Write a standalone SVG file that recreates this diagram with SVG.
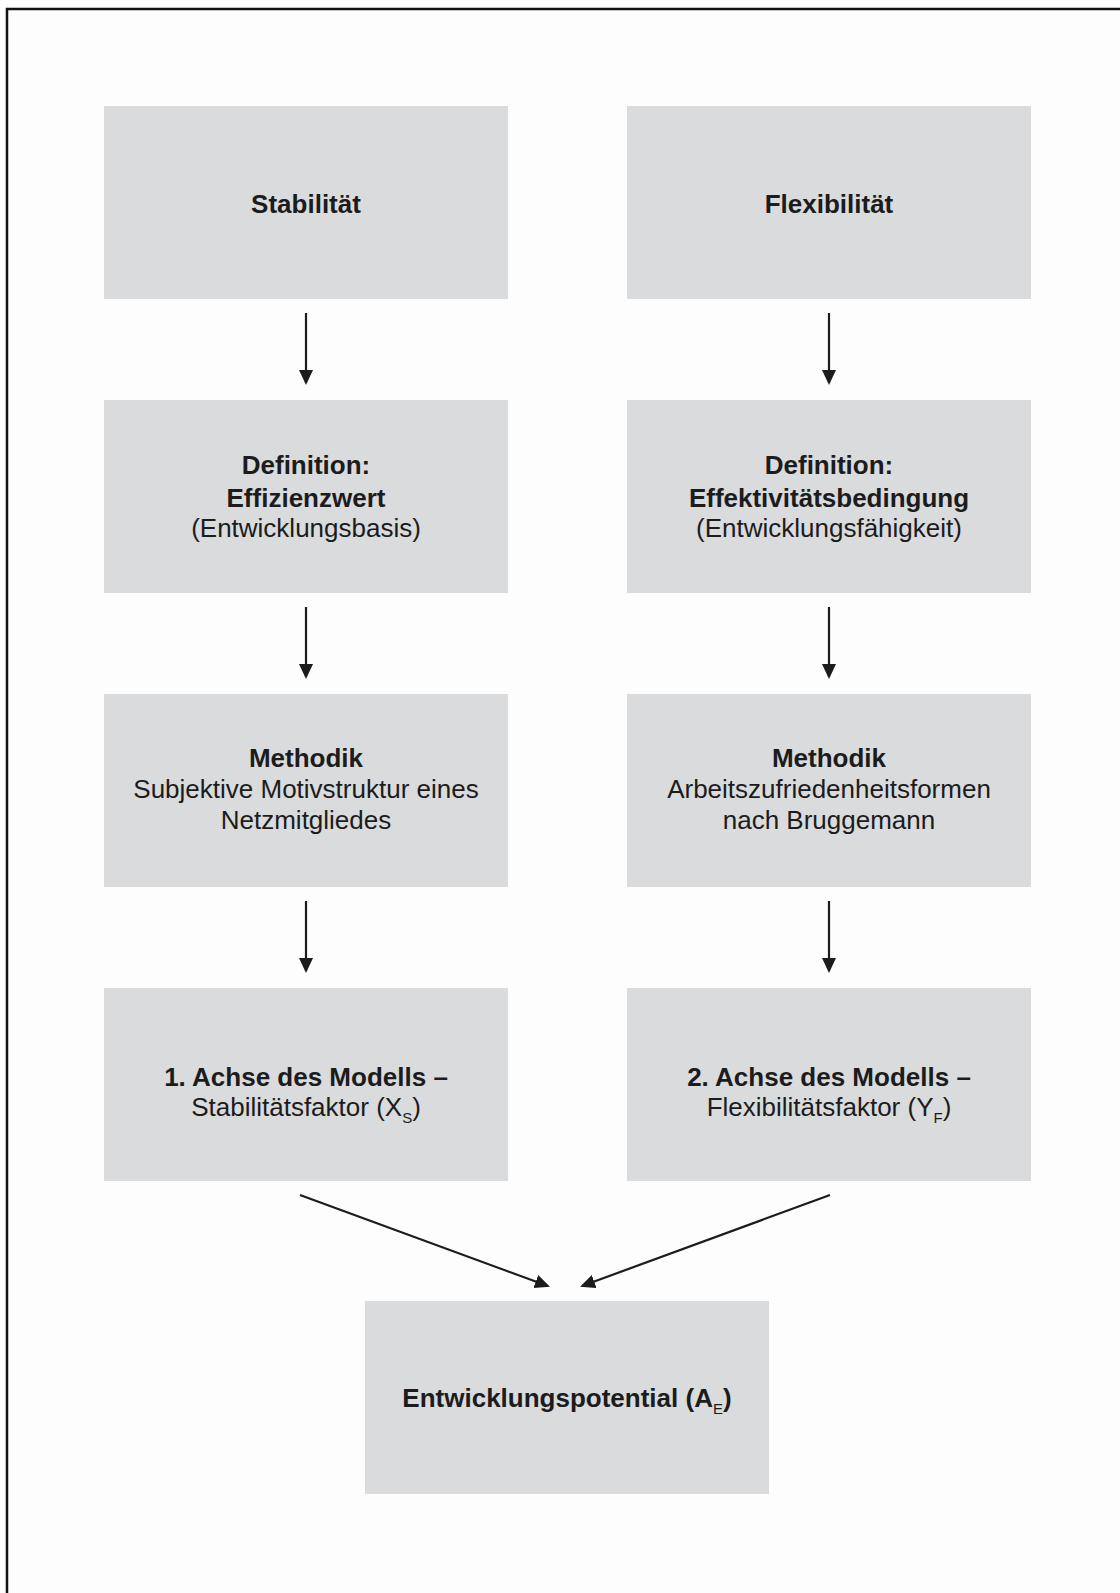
<svg xmlns="http://www.w3.org/2000/svg" width="1120" height="1593" viewBox="0 0 1120 1593">
  <style>
    .box { fill: #dadbdd; }
    .t { font-family: "Liberation Sans", Arial, sans-serif; font-size: 26px; fill: #1c1c1c; text-anchor: middle; }
    .b { font-weight: bold; }
    .sub { font-size: 15px; font-weight: normal; }
    .conn { stroke: #1c1c1c; stroke-width: 2.2; fill: none; marker-end: url(#arrow); }
  </style>
  <defs>
    <marker id="arrow" markerUnits="userSpaceOnUse" markerWidth="16" markerHeight="15" refX="13" refY="7" orient="auto">
      <path d="M0,0 L15,7 L0,14 z" fill="#1c1c1c"/>
    </marker>
  </defs>

  <rect width="1120" height="1593" fill="#fdfdfd"/>
  <!-- outer frame (only top and left edges fall inside the page) -->
  <rect x="7" y="9" width="1300" height="1800" fill="none" stroke="#111" stroke-width="2.5"/>

  <!-- left column -->
  <g id="stabilitaet">
    <rect class="box" x="104" y="106" width="404" height="193"/>
    <text class="t b" x="306" y="213">Stabilität</text>
  </g>
  <g id="def-effizienzwert">
    <rect class="box" x="104" y="400" width="404" height="193"/>
    <text class="t b" x="306" y="474">Definition:</text>
    <text class="t b" x="306" y="507">Effizienzwert</text>
    <text class="t" x="306" y="537">(Entwicklungsbasis)</text>
  </g>
  <g id="methodik-links">
    <rect class="box" x="104" y="694" width="404" height="193"/>
    <text class="t b" x="306" y="767">Methodik</text>
    <text class="t" x="306" y="798">Subjektive Motivstruktur eines</text>
    <text class="t" x="306" y="829">Netzmitgliedes</text>
  </g>
  <g id="achse1">
    <rect class="box" x="104" y="988" width="404" height="193"/>
    <text class="t b" x="306" y="1086">1. Achse des Modells –</text>
    <text class="t" x="306" y="1116">Stabilitätsfaktor (X<tspan class="sub" dy="7">S</tspan><tspan dy="-7">)</tspan></text>
  </g>

  <!-- right column -->
  <g id="flexibilitaet">
    <rect class="box" x="627" y="106" width="404" height="193"/>
    <text class="t b" x="829" y="213">Flexibilität</text>
  </g>
  <g id="def-effektivitaet">
    <rect class="box" x="627" y="400" width="404" height="193"/>
    <text class="t b" x="829" y="474">Definition:</text>
    <text class="t b" x="829" y="507">Effektivitätsbedingung</text>
    <text class="t" x="829" y="537">(Entwicklungsfähigkeit)</text>
  </g>
  <g id="methodik-rechts">
    <rect class="box" x="627" y="694" width="404" height="193"/>
    <text class="t b" x="829" y="767">Methodik</text>
    <text class="t" x="829" y="798">Arbeitszufriedenheitsformen</text>
    <text class="t" x="829" y="829">nach Bruggemann</text>
  </g>
  <g id="achse2">
    <rect class="box" x="627" y="988" width="404" height="193"/>
    <text class="t b" x="829" y="1086">2. Achse des Modells –</text>
    <text class="t" x="829" y="1116">Flexibilitätsfaktor (Y<tspan class="sub" dy="7">F</tspan><tspan dy="-7">)</tspan></text>
  </g>

  <!-- result -->
  <g id="entwicklungspotential">
    <rect class="box" x="365" y="1301" width="404" height="193"/>
    <text class="t b" x="567" y="1407">Entwicklungspotential (A<tspan class="sub" dy="7">E</tspan><tspan dy="-7">)</tspan></text>
  </g>

  <!-- connectors -->
  <g id="connectors">
    <line class="conn" x1="306" y1="313" x2="306" y2="383"/>
    <line class="conn" x1="306" y1="607" x2="306" y2="677"/>
    <line class="conn" x1="306" y1="901" x2="306" y2="971"/>
    <line class="conn" x1="829" y1="313" x2="829" y2="383"/>
    <line class="conn" x1="829" y1="607" x2="829" y2="677"/>
    <line class="conn" x1="829" y1="901" x2="829" y2="971"/>
    <line class="conn" x1="300" y1="1195" x2="548" y2="1286"/>
    <line class="conn" x1="830" y1="1195" x2="582" y2="1286"/>
  </g>
</svg>
